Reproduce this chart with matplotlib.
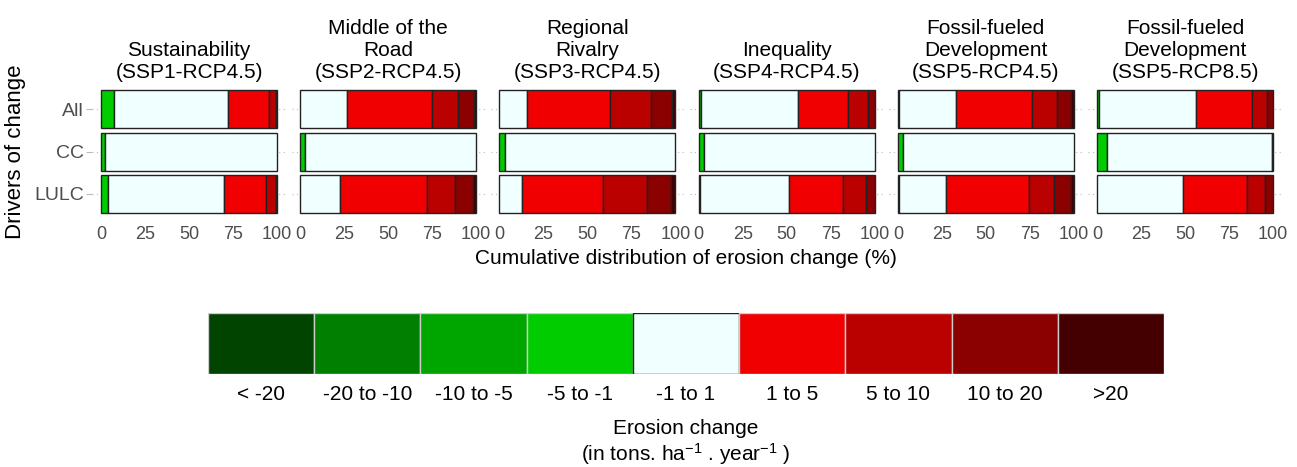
import matplotlib
matplotlib.use("Agg")
import matplotlib.pyplot as plt

plt.rcParams['font.family'] = ['Liberation Sans', 'DejaVu Sans']
plt.rcParams['mathtext.fontset'] = 'custom'
plt.rcParams['mathtext.rm'] = 'Liberation Sans'
plt.rcParams['mathtext.it'] = 'Liberation Sans:italic'

# classes of erosion change (stacked from left to right)
classes = ['< -20', '-20 to -10', '-10 to -5', '-5 to -1', '-1 to 1',
           '1 to 5', '5 to 10', '10 to 20', '>20']
colors = ['#004400', '#007f00', '#00a600', '#00cc00', '#f0ffff',
          '#f00000', '#bb0000', '#8b0000', '#440000']

drivers = ['All', 'CC', 'LULC']

titles = ['Sustainability\n(SSP1-RCP4.5)',
          'Middle of the\nRoad\n(SSP2-RCP4.5)',
          'Regional\nRivalry\n(SSP3-RCP4.5)',
          'Inequality\n(SSP4-RCP4.5)',
          'Fossil-fueled\nDevelopment\n(SSP5-RCP4.5)',
          'Fossil-fueled\nDevelopment\n(SSP5-RCP8.5)']

# % share of each class, rows = All, CC, LULC
ssp1_45 = [[0, 0, 0, 7.2, 65.1, 22.9, 4.0, 0.8, 0],
           [0, 0, 0, 2.5, 97.5, 0, 0, 0, 0],
           [0, 0, 0, 4.0, 66.0, 24.0, 5.2, 0.8, 0]]
ssp2_45 = [[0, 0, 0, 0, 26.7, 48.1, 15.1, 9.0, 1.1],
           [0, 0, 0, 2.9, 97.1, 0, 0, 0, 0],
           [0, 0, 0, 0, 22.5, 49.7, 15.8, 10.1, 1.9]]
ssp3_45 = [[0, 0, 0, 0, 15.5, 47.3, 23.2, 11.9, 2.1],
           [0, 0, 0, 3.4, 96.6, 0, 0, 0, 0],
           [0, 0, 0, 0, 12.6, 46.0, 25.0, 13.7, 2.7]]
ssp4_45 = [[0, 0, 0, 1.3, 54.9, 28.6, 11.2, 4.0, 0],
           [0, 0, 0, 3.0, 97.0, 0, 0, 0, 0],
           [0, 0, 0, 0.8, 50.4, 31.0, 12.9, 4.9, 0]]
ssp5_45 = [[0, 0, 0, 0.8, 32.1, 43.5, 13.9, 8.2, 1.5],
           [0, 0, 0, 2.9, 97.1, 0, 0, 0, 0],
           [0, 0, 0, 0.8, 26.4, 47.3, 14.5, 9.5, 1.5]]
ssp5_85 = [[0, 0, 0, 0.8, 55.2, 31.8, 8.8, 3.4, 0],
           [0, 0, 0, 5.5, 94.0, 0.5, 0, 0, 0],
           [0, 0, 0, 0, 49.0, 36.5, 10.1, 4.4, 0]]

scenarios = [ssp1_45, ssp2_45, ssp3_45, ssp4_45, ssp5_45, ssp5_85]
xticks = [0, 25, 50, 75, 100]

W, H = 1297, 467
fig = plt.figure(figsize=(W / 100, H / 100), dpi=100)

grey = '#4d4d4d'
for i, (data, title) in enumerate(zip(scenarios, titles)):
    left = (92.3 + 199.2 * i) / W
    ax = fig.add_axes([left, 1 - 219.4 / H, 193.5 / W, (219.4 - 83.8) / H])
    ypos = range(len(drivers))
    for r in ypos:
        ax.axhline(r, color='#bbbbbb', lw=0.8, ls=(0, (1, 3)), zorder=0)
    for r, row in enumerate(data):
        start = 0
        for val, col in zip(row, colors):
            if val > 0:
                ax.barh(r, val, left=start, height=0.9, color=col,
                        edgecolor='#222222', linewidth=1.0, zorder=2)
            start += val
    ax.set_xlim(-5, 105)
    ax.set_ylim(2.6, -0.6)
    ax.set_xticks(xticks)
    ax.set_xticklabels([str(t) for t in xticks], fontsize=13, color=grey)
    ax.tick_params(axis='x', length=0, pad=5)
    ax.set_yticks(list(ypos))
    if i == 0:
        ax.set_yticklabels(drivers, fontsize=14, color=grey)
        ax.tick_params(axis='y', length=4, color='#bbbbbb', pad=2)
        ax.set_ylabel('Drivers of change', fontsize=16, labelpad=6)
    else:
        ax.set_yticklabels([])
        ax.tick_params(axis='y', length=0)
    for s in ax.spines.values():
        s.set_visible(False)
    ax.set_title(title, fontsize=15, pad=4, linespacing=1.2)

fig.text(686 / W, 1 - 258 / H, 'Cumulative distribution of erosion change (%)',
         ha='center', va='center', fontsize=15)

# legend drawn as a row of boxes
lax = fig.add_axes([208 / W, 1 - 374 / H, 956 / W, 61 / H])
for k, (lab, col) in enumerate(zip(classes, colors)):
    ec = '#222222' if col == '#f0ffff' else '#cccccc'
    lax.bar(k, 1, width=1, color=col, edgecolor=ec, linewidth=1)
lax.set_xlim(-0.5, len(classes) - 0.5)
lax.set_ylim(0, 1)
lax.set_xticks(range(len(classes)))
lax.set_xticklabels(classes, fontsize=15)
lax.tick_params(axis='x', length=0, pad=8)
lax.set_yticks([])
for s in lax.spines.values():
    s.set_visible(False)

fig.text(686 / W, 1 - 429 / H, 'Erosion change', ha='center', va='center', fontsize=15)
fig.text(686 / W, 1 - 454 / H, r'(in tons. ha$^{-1}$ . year$^{-1}$ )',
         ha='center', va='center', fontsize=15)

fig.savefig('out.png', dpi=100)
